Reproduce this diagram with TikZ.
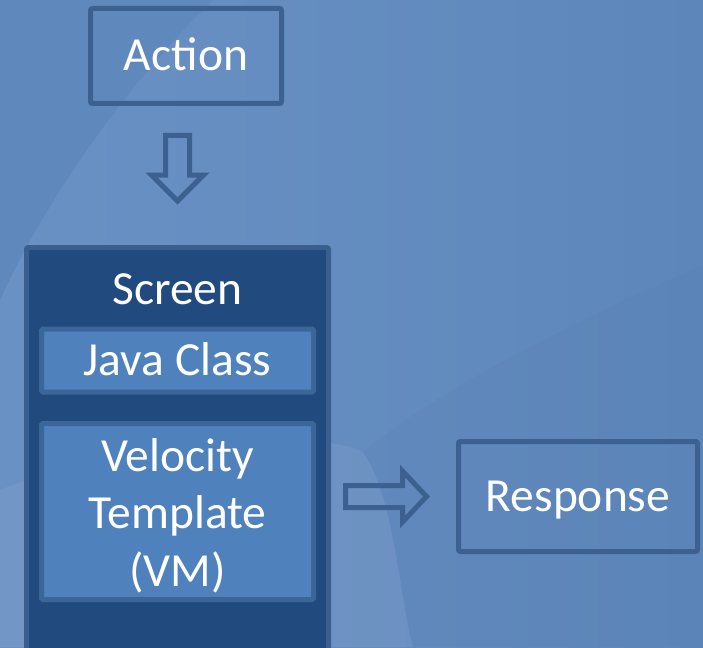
\documentclass[tikz,border=0pt]{standalone}
\usepackage{fontspec}
\setmainfont{Carlito}
\usetikzlibrary{calc}
\definecolor{bgL}{HTML}{6A91C4}
\definecolor{bgR}{HTML}{5D87BB}
\definecolor{bgDark}{HTML}{5E87BC}
\definecolor{edge}{HTML}{3C6191}
\definecolor{scrfill}{HTML}{214A7E}
\definecolor{scredge}{HTML}{3A5E8E}
\definecolor{innerfill}{HTML}{4F81BD}
\definecolor{inneredge}{HTML}{3D6698}
\tikzset{
  txt/.style={text=white,font=\fontsize{47.5}{57.5}\selectfont},
  capline/.style={text height=30pt,text depth=0pt},
  plainbox/.style={draw=edge,line width=5pt,rounded corners=2pt,txt,inner sep=0pt,capline},
  screenbox/.style={draw=scredge,fill=scrfill,line width=5pt,rounded corners=2pt,inner sep=0pt},
  innerbox/.style={draw=inneredge,fill=innerfill,line width=5pt,rounded corners=1.5pt,txt,inner sep=0pt},
  titletxt/.style={txt,inner sep=0pt,capline},
  blockarrow/.style={draw=edge,line width=5pt,line join=miter}
}
\begin{document}
\begin{tikzpicture}[x=1pt,y=-1pt]
  % background
  \shade[left color=bgL,right color=bgR] (0,0) rectangle (703,647);
  \useasboundingbox (0,0) rectangle (703,647);
  \fill[bgDark,opacity=0.85] (0,0) -- (213,0) .. controls (130,80) and (45,200) .. (0,300) -- cycle;
  \fill[black,opacity=0.015] (703,265) .. controls (600,310) and (450,380) .. (363,452)
        .. controls (395,500) and (398,590) .. (413,647) -- (703,647) -- cycle;
  \fill[white,opacity=0.06] (0,490) .. controls (150,430) and (320,430) .. (363,452)
        .. controls (395,500) and (398,590) .. (413,647) -- (0,647) -- cycle;

  % nodes
  \node[plainbox,minimum width=191pt,minimum height=95pt] (act) at (186,56) {Action};
  \node[screenbox,minimum width=302pt,minimum height=422.5pt] (scr) at (177.5,458.75) {};
  \node[titletxt] (scrt) at (177.5,289) {Screen};
  \node[innerbox,capline,minimum width=272pt,minimum height=63pt] (java) at (177.5,360.5) {Java Class};
  \node[innerbox,align=center,minimum width=272pt,minimum height=176pt] (vel) at (177.5,511.5) {};
  \node[txt,align=center,inner sep=0pt,yshift=-4pt] (velt) at (vel.center) {Velocity\\Template\\(VM)};
  \node[plainbox,minimum width=239pt,minimum height=110pt] (resp) at (578,496.5) {Response};

  % block arrows
  \draw[blockarrow,shift={(scr.north)}]
     (-12,-109.5) -- (12,-109.5) -- (12,-70) -- (26,-70) -- (0,-44) -- (-26,-70) -- (-12,-70) -- cycle;
  \draw[blockarrow,shift={(resp.west)}]
     (-110.5,-11) -- (-53.5,-11) -- (-53.5,-25.5) -- (-29.5,0) -- (-53.5,25.5) -- (-53.5,11) -- (-110.5,11) -- cycle;
\end{tikzpicture}
\end{document}
